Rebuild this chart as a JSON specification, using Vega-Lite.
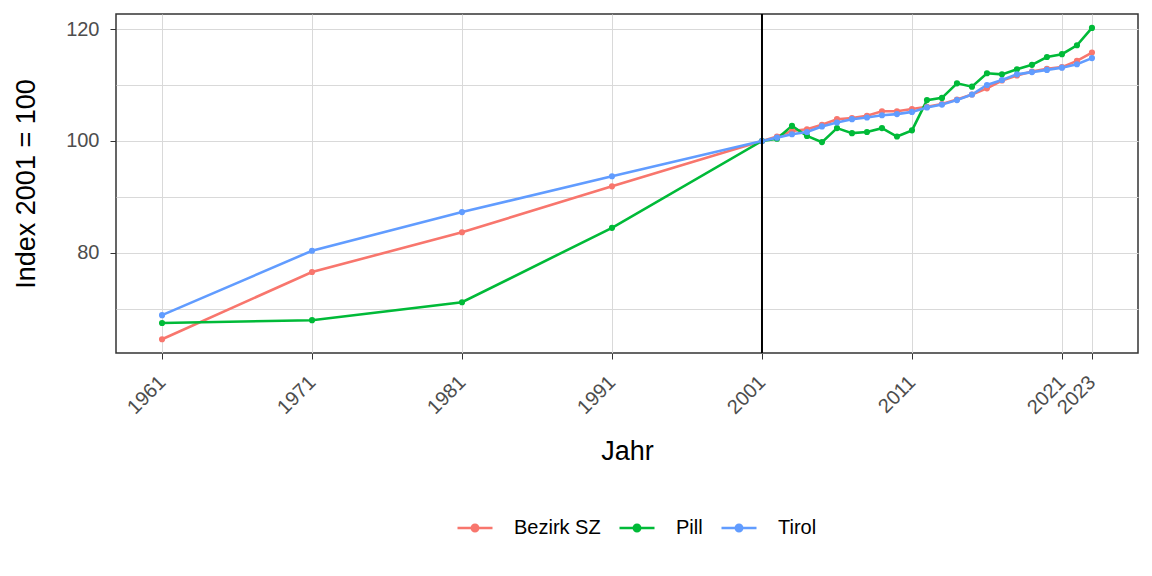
{
  "$schema": "https://vega.github.io/schema/vega-lite/v6.json",
  "width": 1022,
  "height": 339,
  "autosize": {"type": "none"},
  "padding": {"left": 116, "top": 14, "right": 14, "bottom": 223},
  "background": "white",
  "config": {
    "font": "Liberation Sans",
    "view": {"stroke": "#333333", "strokeWidth": 1.5},
    "axis": {
      "domain": false,
      "gridColor": "#d9d9d9",
      "gridWidth": 1,
      "tickColor": "#333333",
      "tickSize": 6,
      "labelColor": "#4d4d4d",
      "labelFontSize": 20,
      "titleFontSize": 27,
      "titleFontWeight": "normal",
      "titleColor": "#000000",
      "labelFont": "Liberation Sans",
      "titleFont": "Liberation Sans"
    }
  },
  "datasets": {
    "vline": [{"year": 2001}],
    "pop": [
      {"year": 1961, "region": "Bezirk SZ", "value": 64.6},
      {"year": 1971, "region": "Bezirk SZ", "value": 76.6},
      {"year": 1981, "region": "Bezirk SZ", "value": 83.7},
      {"year": 1991, "region": "Bezirk SZ", "value": 91.9},
      {"year": 2001, "region": "Bezirk SZ", "value": 100},
      {"year": 2002, "region": "Bezirk SZ", "value": 100.8},
      {"year": 2003, "region": "Bezirk SZ", "value": 101.8},
      {"year": 2004, "region": "Bezirk SZ", "value": 102.1},
      {"year": 2005, "region": "Bezirk SZ", "value": 102.9},
      {"year": 2006, "region": "Bezirk SZ", "value": 103.9},
      {"year": 2007, "region": "Bezirk SZ", "value": 104.1},
      {"year": 2008, "region": "Bezirk SZ", "value": 104.5},
      {"year": 2009, "region": "Bezirk SZ", "value": 105.3},
      {"year": 2010, "region": "Bezirk SZ", "value": 105.3},
      {"year": 2011, "region": "Bezirk SZ", "value": 105.7},
      {"year": 2012, "region": "Bezirk SZ", "value": 106.1},
      {"year": 2013, "region": "Bezirk SZ", "value": 106.6},
      {"year": 2014, "region": "Bezirk SZ", "value": 107.4},
      {"year": 2015, "region": "Bezirk SZ", "value": 108.3},
      {"year": 2016, "region": "Bezirk SZ", "value": 109.4},
      {"year": 2017, "region": "Bezirk SZ", "value": 110.8},
      {"year": 2018, "region": "Bezirk SZ", "value": 111.7},
      {"year": 2019, "region": "Bezirk SZ", "value": 112.4},
      {"year": 2020, "region": "Bezirk SZ", "value": 112.9},
      {"year": 2021, "region": "Bezirk SZ", "value": 113.2},
      {"year": 2022, "region": "Bezirk SZ", "value": 114.3},
      {"year": 2023, "region": "Bezirk SZ", "value": 115.8},
      {"year": 1961, "region": "Pill", "value": 67.5},
      {"year": 1971, "region": "Pill", "value": 68.0},
      {"year": 1981, "region": "Pill", "value": 71.2},
      {"year": 1991, "region": "Pill", "value": 84.5},
      {"year": 2001, "region": "Pill", "value": 100},
      {"year": 2002, "region": "Pill", "value": 100.4},
      {"year": 2003, "region": "Pill", "value": 102.7},
      {"year": 2004, "region": "Pill", "value": 100.9},
      {"year": 2005, "region": "Pill", "value": 99.8},
      {"year": 2006, "region": "Pill", "value": 102.3},
      {"year": 2007, "region": "Pill", "value": 101.4},
      {"year": 2008, "region": "Pill", "value": 101.6},
      {"year": 2009, "region": "Pill", "value": 102.3},
      {"year": 2010, "region": "Pill", "value": 100.8},
      {"year": 2011, "region": "Pill", "value": 101.9},
      {"year": 2012, "region": "Pill", "value": 107.3},
      {"year": 2013, "region": "Pill", "value": 107.7},
      {"year": 2014, "region": "Pill", "value": 110.3},
      {"year": 2015, "region": "Pill", "value": 109.7},
      {"year": 2016, "region": "Pill", "value": 112.1},
      {"year": 2017, "region": "Pill", "value": 111.9},
      {"year": 2018, "region": "Pill", "value": 112.8},
      {"year": 2019, "region": "Pill", "value": 113.6},
      {"year": 2020, "region": "Pill", "value": 115.0},
      {"year": 2021, "region": "Pill", "value": 115.5},
      {"year": 2022, "region": "Pill", "value": 117.1},
      {"year": 2023, "region": "Pill", "value": 120.2},
      {"year": 1961, "region": "Tirol", "value": 68.9},
      {"year": 1971, "region": "Tirol", "value": 80.4},
      {"year": 1981, "region": "Tirol", "value": 87.3},
      {"year": 1991, "region": "Tirol", "value": 93.7},
      {"year": 2001, "region": "Tirol", "value": 100},
      {"year": 2002, "region": "Tirol", "value": 100.6},
      {"year": 2003, "region": "Tirol", "value": 101.2},
      {"year": 2004, "region": "Tirol", "value": 101.6},
      {"year": 2005, "region": "Tirol", "value": 102.6},
      {"year": 2006, "region": "Tirol", "value": 103.3},
      {"year": 2007, "region": "Tirol", "value": 103.9},
      {"year": 2008, "region": "Tirol", "value": 104.2},
      {"year": 2009, "region": "Tirol", "value": 104.6},
      {"year": 2010, "region": "Tirol", "value": 104.8},
      {"year": 2011, "region": "Tirol", "value": 105.2},
      {"year": 2012, "region": "Tirol", "value": 106.0},
      {"year": 2013, "region": "Tirol", "value": 106.5},
      {"year": 2014, "region": "Tirol", "value": 107.3},
      {"year": 2015, "region": "Tirol", "value": 108.3},
      {"year": 2016, "region": "Tirol", "value": 110.0},
      {"year": 2017, "region": "Tirol", "value": 110.9},
      {"year": 2018, "region": "Tirol", "value": 111.9},
      {"year": 2019, "region": "Tirol", "value": 112.3},
      {"year": 2020, "region": "Tirol", "value": 112.7},
      {"year": 2021, "region": "Tirol", "value": 113.1},
      {"year": 2022, "region": "Tirol", "value": 113.7},
      {"year": 2023, "region": "Tirol", "value": 114.8}
    ]
  },
  "layer": [
    {
      "data": {"name": "pop"},
      "mark": {"type": "line", "strokeWidth": 2.6, "clip": true},
      "encoding": {
        "x": {
          "field": "year", "type": "quantitative",
          "scale": {"domain": [1957.93, 2026.07], "nice": false, "zero": false},
          "axis": {
            "values": [1961, 1971, 1981, 1991, 2001, 2011, 2021, 2023],
            "format": "d",
            "labelAngle": -45,
            "labelAlign": "right",
            "labelBaseline": "middle",
            "labelPadding": 20,
            "labelDx": 5,
            "labelOverlap": false,
            "title": "Jahr",
            "titleY": 106,
            "titleBaseline": "alphabetic"
          }
        },
        "y": {
          "field": "value", "type": "quantitative",
          "scale": {"domain": [62.14, 122.68], "nice": false, "zero": false},
          "axis": {
            "values": [70, 80, 90, 100, 110, 120],
            "labelExpr": "datum.value % 20 == 0 ? datum.label : ''",
            "tickColor": {"condition": {"test": "datum.value % 20 == 0", "value": "#333333"}, "value": "transparent"},
            "labelPadding": 11,
            "title": "Index 2001 = 100",
            "titleX": -82,
            "titleBaseline": "alphabetic"
          }
        },
        "color": {
          "field": "region", "type": "nominal",
          "scale": {"domain": ["Bezirk SZ", "Pill", "Tirol"], "range": ["#F8766D", "#00BA38", "#619CFF"]},
          "legend": {
            "title": null,
            "orient": "none",
            "direction": "horizontal",
            "legendX": 340,
            "legendY": 495,
            "symbolType": "M-1,0H1M-0.18,0A0.18,0.18 0 1,0 0.18,0A0.18,0.18 0 1,0 -0.18,0",
            "symbolSize": 1225,
            "symbolStrokeWidth": 2.6,
            "labelFontSize": 20,
            "labelColor": "#000000",
            "labelOffset": 20,
            "columnPadding": 13,
            "encode": {
              "symbols": {"update": {"fill": {"scale": "color", "field": "value"}, "fillOpacity": {"value": 1}}}
            }
          }
        }
      }
    },
    {
      "data": {"name": "pop"},
      "mark": {"type": "point", "filled": true, "size": 38, "opacity": 1},
      "encoding": {
        "x": {"field": "year", "type": "quantitative"},
        "y": {"field": "value", "type": "quantitative"},
        "color": {"field": "region", "type": "nominal"}
      }
    },
    {
      "data": {"name": "vline"},
      "mark": {"type": "rule", "color": "#000000", "strokeWidth": 2},
      "encoding": {
        "x": {"field": "year", "type": "quantitative"}
      }
    }
  ]
}
